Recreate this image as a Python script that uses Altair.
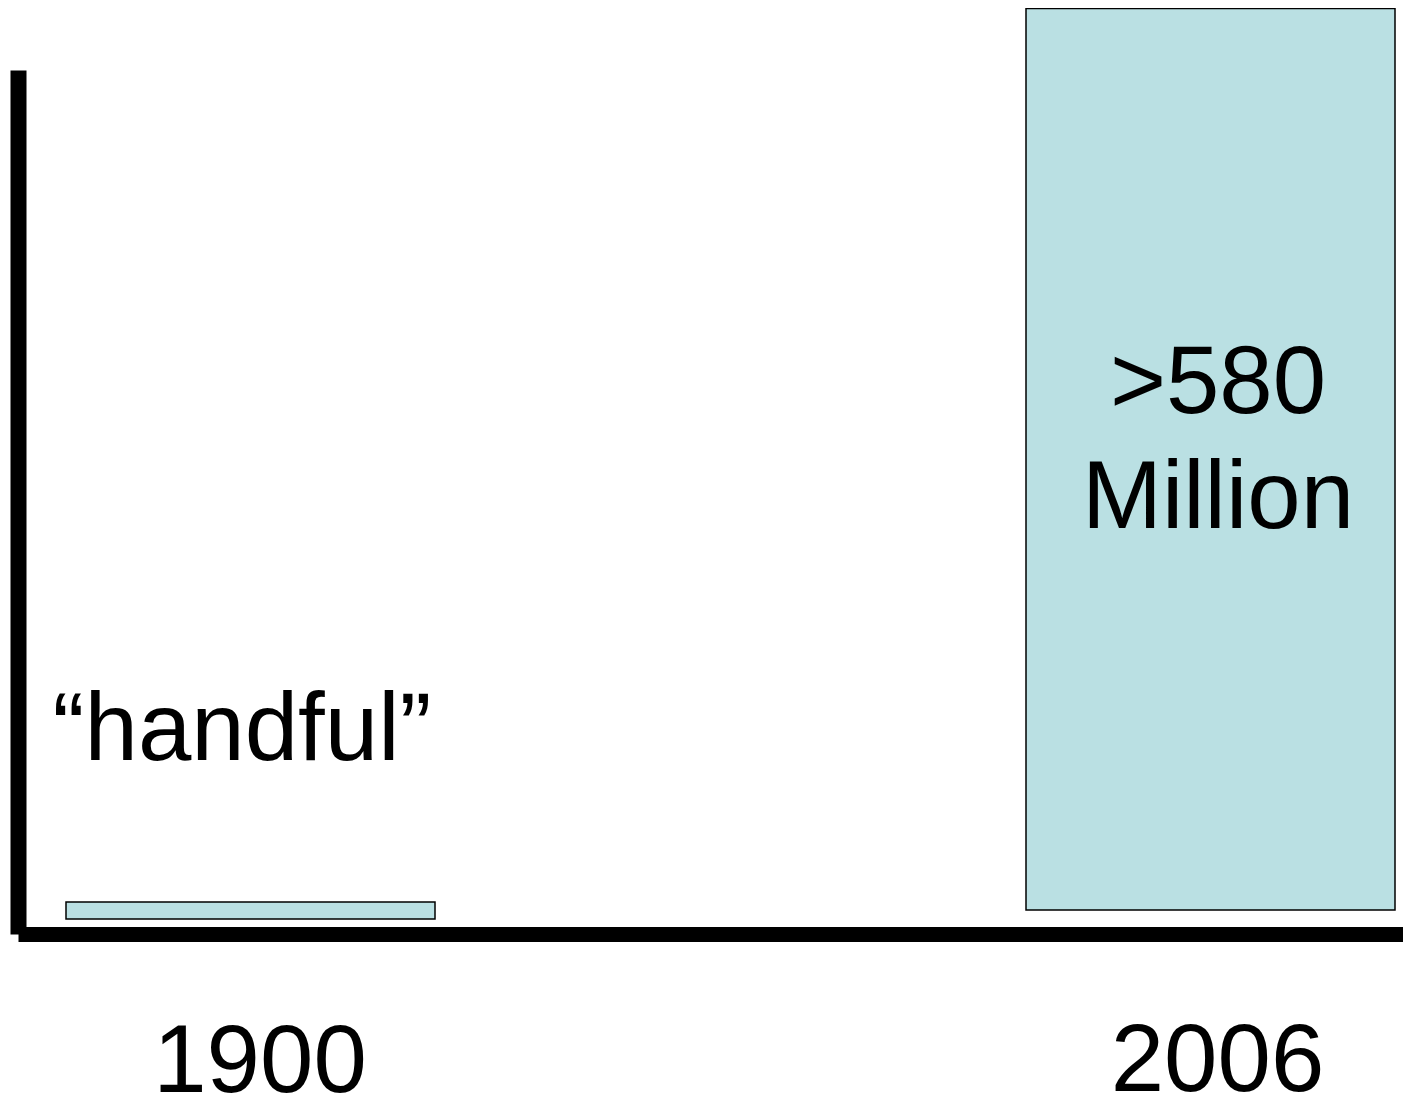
import altair as alt
import pandas as pd

# ---- data ----
years = ["1900", "2006"]
low = [-5.8, 0.0]          # bar bottoms (millions)
high = [5.1, 580.0]        # bar tops (millions)
labels = ["\u201chandful\u201d", ">580\nMillion"]

df = pd.DataFrame({"year": years, "low": low, "high": high, "label": labels})

FONT = "Liberation Sans"
FS = 96

xscale = alt.Scale(domain=years, paddingInner=0.615625, paddingOuter=0.0291667, align=0.857143)
yscale = alt.Scale(domain=[-15.441, 540.43], nice=False, zero=False)

xaxis = alt.Axis(domain=True, domainColor="black", domainWidth=15, ticks=False,
                 labels=False, grid=False, title=None)
yaxis = alt.Axis(domain=True, domainColor="black", domainWidth=16, ticks=False,
                 labels=False, grid=False, title=None)

base = alt.Chart(df)
X = alt.X("year:N", scale=xscale, axis=xaxis)

bars = base.mark_bar(color="#BAE0E3", stroke="black", strokeWidth=1.5).encode(
    x=X,
    y=alt.Y("low:Q", scale=yscale, axis=yaxis),
    y2="high:Q",
)

label_1900 = base.transform_filter(alt.datum.year == "1900").mark_text(
    font=FONT, fontSize=FS, color="black", align="center", baseline="alphabetic",
    dx=-8.5, dy=-142,
).encode(
    x=X,
    y=alt.Y("high:Q", scale=yscale, axis=yaxis),
    text="label:N",
)

label_2006 = base.transform_filter(alt.datum.year == "2006").transform_calculate(
    mid="(datum.low + datum.high) / 2"
).mark_text(
    font=FONT, fontSize=FS, color="black", align="center", baseline="alphabetic",
    dx=7.5, dy=-46, lineBreak="\n", lineHeight=115,
).encode(
    x=X,
    y=alt.Y("mid:Q", scale=yscale, axis=yaxis),
    text="label:N",
)

year_1900 = base.transform_filter(alt.datum.year == "1900").mark_text(
    font=FONT, fontSize=FS, color="black", align="center", baseline="alphabetic",
    dx=9.5, dy=173,
).encode(
    x=X,
    y=alt.Y("low:Q", scale=yscale, axis=yaxis),
    text="year:N",
)

year_2006 = base.transform_filter(alt.datum.year == "2006").mark_text(
    font=FONT, fontSize=FS, color="black", align="center", baseline="alphabetic",
    dx=7, dy=181,
).encode(
    x=X,
    y=alt.Y("low:Q", scale=yscale, axis=yaxis),
    text="year:N",
)

chart = alt.layer(bars, label_1900, label_2006, year_1900, year_2006).properties(
    width=1385,
    height=864,
    autosize=alt.AutoSizeParams(type="none"),
    padding={"left": 10, "top": 62, "right": 0, "bottom": 159},
    background="white",
).configure_view(strokeWidth=0)

chart.save("out.html", embed_options={"renderer": "svg", "actions": False})
